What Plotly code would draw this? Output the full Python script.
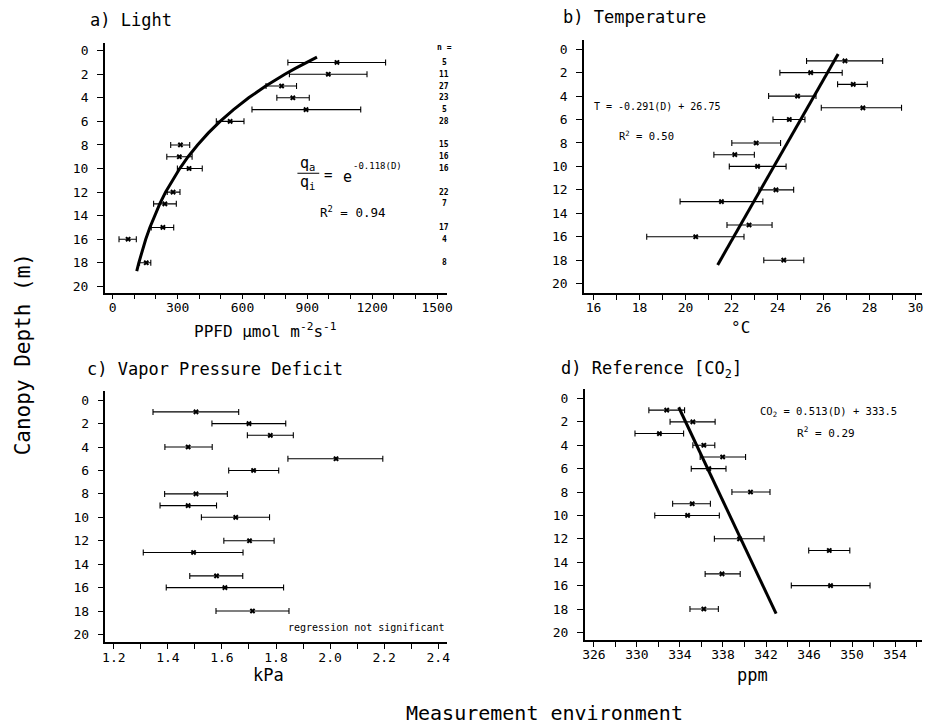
import plotly.graph_objects as go

# ---- data ---------------------------------------------------------------
depth = [1, 2, 3, 4, 5, 6, 8, 9, 10, 12, 13, 15, 16, 18]

ppfd_mean = [1037, 997, 781, 833, 894, 543, 313, 308, 353, 279, 241, 232, 71, 155]
ppfd_low = [810, 817, 709, 759, 644, 479, 268, 250, 299, 252, 189, 178, 29, 124]
ppfd_high = [1262, 1176, 850, 909, 1147, 607, 356, 367, 414, 311, 294, 282, 109, 176]
n_obs = [5, 11, 27, 23, 5, 28, 15, 16, 16, 22, 7, 17, 4, 8]

temp_mean = [26.93, 25.44, 27.29, 24.87, 27.71, 24.51, 23.07, 22.14, 23.13, 23.93, 21.56, 22.76, 20.44, 24.27]
temp_low = [25.26, 24.10, 26.61, 23.61, 25.90, 23.80, 22.01, 21.23, 21.90, 23.19, 19.76, 21.80, 18.31, 23.40]
temp_high = [28.57, 26.81, 27.90, 25.67, 29.39, 25.19, 24.13, 22.99, 24.37, 24.70, 23.36, 23.76, 22.54, 25.14]

vpd_mean = [1.504, 1.700, 1.779, 1.475, 2.022, 1.717, 1.504, 1.475, 1.651, 1.702, 1.495, 1.580, 1.611, 1.713]
vpd_low = [1.345, 1.563, 1.694, 1.389, 1.844, 1.625, 1.388, 1.371, 1.524, 1.607, 1.309, 1.481, 1.394, 1.578]
vpd_high = [1.662, 1.836, 1.864, 1.564, 2.195, 1.810, 1.620, 1.580, 1.776, 1.793, 1.678, 1.677, 1.828, 1.848]

co2_mean = [332.77, 335.20, 332.09, 336.22, 337.97, 336.68, 340.56, 335.14, 334.71, 339.54, 347.88, 337.91, 348.00, 336.22]
co2_low = [331.11, 333.08, 329.82, 335.20, 335.88, 335.05, 338.83, 333.32, 331.66, 337.20, 345.97, 336.34, 344.35, 334.93]
co2_high = [334.43, 337.27, 334.34, 337.24, 340.10, 338.28, 342.37, 336.83, 337.66, 341.82, 349.79, 339.60, 351.67, 337.57]

# regression fits
light_k = -0.118          # q_a / q_i = exp(k * D)
light_qi = 1008           # incident PPFD above the canopy
light_fit_depth = [0.55, 1, 1.5, 2, 3, 4, 5, 6, 7, 8, 9, 10, 11, 12, 13, 14, 15, 16, 17, 18, 18.7]
temp_slope, temp_icpt = -0.291, 26.75
temp_fit_depth = [0.4, 18.4]
co2_slope, co2_icpt = 0.513, 333.5
co2_fit_depth = [0.75, 18.4]

# tick spacing (labelled / unlabelled)
depth_ticks = list(range(0, 21, 2))
ppfd_dtick, ppfd_minor = 300, 100
temp_dtick, temp_minor = 2, 1
vpd_dtick, vpd_minor = 0.2, 0.1
co2_dtick, co2_minor = 4, 2

# ---- layout helpers ------------------------------------------------------
W, H = 927, 726
FONT = "DejaVu Sans Mono"


def fx(p):
    return p / W


def fy(p):
    return 1 - p / H


def err(mean, low, high):
    return dict(type="data", symmetric=False,
                array=[h - m for m, h in zip(mean, high)],
                arrayminus=[m - l for m, l in zip(mean, low)],
                color="black", thickness=1.1, width=3)


fig = go.Figure()

panels = [
    # (axis suffix, mean, low, high)
    ("", ppfd_mean, ppfd_low, ppfd_high),
    ("2", temp_mean, temp_low, temp_high),
    ("3", vpd_mean, vpd_low, vpd_high),
    ("4", co2_mean, co2_low, co2_high),
]
for suf, m, lo, hi in panels:
    fig.add_trace(go.Scatter(
        x=m, y=depth, mode="markers", xaxis="x" + suf, yaxis="y" + suf,
        marker=dict(symbol="x", size=5, color="black"),
        error_x=err(m, lo, hi), showlegend=False, hoverinfo="skip"))

# fitted curves
light_fit = [light_qi * (2.718281828459045 ** (light_k * d)) for d in light_fit_depth]
fig.add_trace(go.Scatter(x=light_fit, y=light_fit_depth, mode="lines",
                         xaxis="x", yaxis="y", line=dict(color="black", width=3),
                         showlegend=False, hoverinfo="skip"))
fig.add_trace(go.Scatter(x=[temp_slope * d + temp_icpt for d in temp_fit_depth],
                         y=temp_fit_depth, mode="lines", xaxis="x2", yaxis="y2",
                         line=dict(color="black", width=3),
                         showlegend=False, hoverinfo="skip"))
fig.add_trace(go.Scatter(x=[co2_slope * d + co2_icpt for d in co2_fit_depth],
                         y=co2_fit_depth, mode="lines", xaxis="x4", yaxis="y4",
                         line=dict(color="black", width=3),
                         showlegend=False, hoverinfo="skip"))


def xaxis(domain_px, rng, tick0, dtick, minor, anchor, fmt=None):
    ax = dict(domain=[fx(domain_px[0]), fx(domain_px[1])], range=rng,
              anchor=anchor, showline=True, linecolor="black", linewidth=1.5,
              ticks="outside", ticklen=5, tickwidth=1.2, tickcolor="black",
              tickmode="linear", tick0=tick0, dtick=dtick,
              minor=dict(tickmode="linear", tick0=tick0, dtick=minor,
                         ticks="outside", ticklen=5, tickwidth=1.2,
                         tickcolor="black", showgrid=False),
              showgrid=False, zeroline=False,
              tickfont=dict(family=FONT, size=13, color="black"),
              ticklabelstandoff=-3)
    if fmt:
        ax["tickformat"] = fmt
    return ax


def yaxis(domain_px, rng, anchor):
    return dict(domain=[fy(domain_px[1]), fy(domain_px[0])], range=rng,
                anchor=anchor, showline=True, linecolor="black", linewidth=1.5,
                ticks="outside", ticklen=6, tickwidth=1.2, tickcolor="black",
                tickvals=depth_ticks, ticktext=[str(t) for t in depth_ticks],
                showgrid=False, zeroline=False,
                tickfont=dict(family=FONT, size=13, color="black"),
                ticklabelstandoff=6)


fig.update_layout(
    width=W, height=H, margin=dict(l=0, r=0, t=0, b=0),
    paper_bgcolor="white", plot_bgcolor="white",
    font=dict(family=FONT, color="black"),
    xaxis=xaxis((102.7, 448.3), [-36.7, 1548], 0, ppfd_dtick, ppfd_minor, "y"),
    yaxis=yaxis((43.3, 293), [20.53, -0.63], "x"),
    xaxis2=xaxis((586, 927), [15.58, 30.28], 16, temp_dtick, temp_minor, "y2"),
    yaxis2=yaxis((40, 293.3), [20.79, -0.79], "x2"),
    xaxis3=xaxis((103.3, 448.3), [1.169, 2.434], 1.2, vpd_dtick, vpd_minor, "y3", ".1f"),
    yaxis3=yaxis((391.7, 643.3), [20.68, -0.77], "x3"),
    xaxis4=xaxis((586.7, 927), [325.14, 356.5], 326, co2_dtick, co2_minor, "y4"),
    yaxis4=yaxis((390, 641), [20.66, -0.77], "x4"),
)

ann = []


def text(s, x, y, size, xanchor="left", yanchor="middle", angle=0, xref="paper", yref="paper"):
    ann.append(dict(text=s, x=x, y=y, xref=xref, yref=yref, showarrow=False,
                    xanchor=xanchor, yanchor=yanchor, textangle=angle,
                    font=dict(family=FONT, size=size, color="black")))


# panel titles
text("a) Light", fx(86), fy(20), 17)
text("b) Temperature", fx(563), fy(17), 17)
text("c) Vapor Pressure Deficit", fx(83), fy(370), 17)
text("d) Reference [CO<sub>2</sub>]", fx(561), fy(370), 17)

# axis titles
text("PPFD μmol m<sup>-2</sup>s<sup>-1</sup>", fx(265), fy(331), 16, xanchor="center")
text("°C", fx(744), fy(328), 16, xanchor="center")
text("kPa", fx(268), fy(676), 17, xanchor="center")
text("ppm", fx(756), fy(676), 17, xanchor="center")
text("Canopy Depth (m)", fx(20), fy(355), 21, xanchor="center", angle=-90)
text("Measurement environment", fx(546), fy(714), 20, xanchor="center")

# panel a: light attenuation equation and sample sizes
text("q<sub>a</sub>", fx(298), fy(164), 15)
text("q<sub>i</sub>", fx(298), fy(183), 15)
text("=", fx(322), fy(175), 14)
text("e", fx(341), fy(177), 15)
text("-0.118(D)", fx(351), fy(166), 9)
text("R<sup>2</sup> = 0.94", fx(318), fy(212), 12.5)
text("<b>n =</b>", fx(445), fy(48), 8, xanchor="center")
for d, n in zip(depth, n_obs):
    ann.append(dict(text=f"<b>{n}</b>", x=fx(445), y=d, xref="paper", yref="y",
                    showarrow=False, xanchor="center", yanchor="middle",
                    font=dict(family=FONT, size=8, color="black")))

# panel b
text("T = -0.291(D) + 26.75", fx(594), fy(107), 10)
text("R<sup>2</sup> = 0.50", fx(619), fy(136), 10.5)

# panel c
text("regression not significant", fx(448), fy(628), 10, xanchor="right")

# panel d
text("CO<sub>2</sub> = 0.513(D) + 333.5", fx(762), fy(413), 10.5)
text("R<sup>2</sup> = 0.29", fx(799), fy(433), 11)

fig.update_layout(annotations=ann)

# fraction bar for q_a / q_i
fig.add_shape(type="line", xref="paper", yref="paper",
              x0=fx(297), x1=fx(319), y0=fy(173.5), y1=fy(173.5),
              line=dict(color="black", width=1))

fig.write_html("out.html")
